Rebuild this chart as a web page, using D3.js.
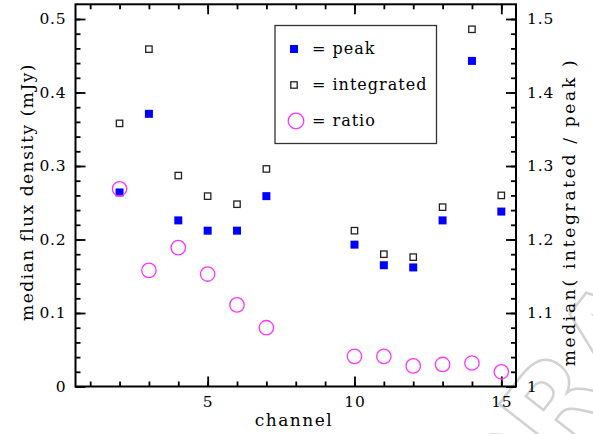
<!DOCTYPE html>
<html>
<head>
<meta charset="utf-8">
<script src="https://cdn.jsdelivr.net/npm/d3@7"></script>
<style>
  body { margin: 0; background: #fff; }
  svg { display: block; }
  text { font-family: "DejaVu Serif", "Liberation Serif", serif; fill: #000; }
</style>
</head>
<body>
<svg id="chart" width="593" height="434"></svg>
<script>
// Data
const channels = [2, 3, 4, 5, 6, 7, 10, 11, 12, 13, 14, 15];
const peak = [0.264, 0.371, 0.226, 0.212, 0.212, 0.259, 0.193, 0.165, 0.162, 0.226, 0.443, 0.238];
const integrated = [0.358, 0.459, 0.287, 0.259, 0.248, 0.296, 0.212, 0.180, 0.176, 0.244, 0.486, 0.260];
const ratio = [1.269, 1.158, 1.189, 1.153, 1.111, 1.080, 1.041, 1.041, 1.028, 1.030, 1.032, 1.020];

const xMajor = [5, 10, 15];
const xMinor = d3.range(1, 16);
const yMajor = [0, 0.1, 0.2, 0.3, 0.4, 0.5];
const yMinor = d3.range(0, 0.52, 0.02);
const rMajor = [1, 1.1, 1.2, 1.3, 1.4, 1.5];
const rMinor = d3.range(1, 1.52, 0.02);

const legendItems = ["peak", "integrated", "ratio"];

// Plot frame
const frameL = 75.5, frameR = 516, frameT = 4.3, frameB = 386.5;

const svg = d3.select("#chart");

const x = d3.scaleLinear().domain([0.5, 15.5]).range([frameL, frameR]);
const y = d3.scaleLinear().domain([0, 0.52]).range([frameB, frameT]);
const yR = d3.scaleLinear().domain([1, 1.52]).range([frameB, frameT]);

const fmt = (d) => (Number.isInteger(d) ? String(d) : d.toFixed(1));

// Watermark (faint outlined text peeking in at the corner)
svg.append("text")
  .attr("transform", "translate(500,545) rotate(-52)")
  .style("font-family", "DejaVu Sans, sans-serif")
  .style("font-size", "120px")
  .style("font-weight", "bold")
  .style("fill", "none")
  .style("stroke", "#d2d2d2")
  .style("stroke-width", 2.5)
  .text("DRAFT");

// Axes: minor ticks first, then major with labels
const axisStyle = (g) => {
  g.select(".domain").remove();
  g.selectAll(".tick line").attr("stroke", "#000").attr("stroke-width", 1.8);
  g.selectAll(".tick text")
    .style("font-size", "15.5px")
    .style("letter-spacing", "0.8px")
    .style("font-family", "DejaVu Serif, serif");
};

// bottom
svg.append("g").attr("transform", `translate(0,${frameB})`)
  .call(d3.axisBottom(x).tickValues(xMinor).tickSize(-5).tickFormat(""))
  .call(axisStyle);
svg.append("g").attr("transform", `translate(0,${frameB})`)
  .call(d3.axisBottom(x).tickValues(xMajor).tickSize(-10).tickPadding(9).tickFormat(d3.format("d")))
  .call(axisStyle);
// top
svg.append("g").attr("transform", `translate(0,${frameT})`)
  .call(d3.axisTop(x).tickValues(xMinor).tickSize(-5).tickFormat(""))
  .call(axisStyle);
svg.append("g").attr("transform", `translate(0,${frameT})`)
  .call(d3.axisTop(x).tickValues(xMajor).tickSize(-10).tickFormat(""))
  .call(axisStyle);
// left
svg.append("g").attr("transform", `translate(${frameL},0)`)
  .call(d3.axisLeft(y).tickValues(yMinor).tickSize(-5).tickFormat(""))
  .call(axisStyle);
svg.append("g").attr("transform", `translate(${frameL},0)`)
  .call(d3.axisLeft(y).tickValues(yMajor).tickSize(-10).tickPadding(9).tickFormat(fmt))
  .call(axisStyle);
// right
svg.append("g").attr("transform", `translate(${frameR},0)`)
  .call(d3.axisRight(yR).tickValues(rMinor).tickSize(-5).tickFormat(""))
  .call(axisStyle);
svg.append("g").attr("transform", `translate(${frameR},0)`)
  .call(d3.axisRight(yR).tickValues(rMajor).tickSize(-10).tickPadding(11).tickFormat(fmt))
  .call(axisStyle);

// frame
svg.append("rect")
  .attr("x", frameL).attr("y", frameT)
  .attr("width", frameR - frameL).attr("height", frameB - frameT)
  .attr("fill", "none").attr("stroke", "#000").attr("stroke-width", 2);

// axis titles
svg.append("text")
  .attr("transform", `translate(33,192) rotate(-90)`)
  .attr("text-anchor", "middle")
  .style("font-size", "17px")
  .style("letter-spacing", "1.5px")
  .text("median flux density (mJy)");

svg.append("text")
  .attr("transform", `translate(575,212) rotate(-90)`)
  .attr("text-anchor", "middle")
  .style("font-size", "17px")
  .style("letter-spacing", "2.7px")
  .text("median( integrated / peak )");

svg.append("text")
  .attr("x", 294).attr("y", 426)
  .attr("text-anchor", "middle")
  .style("font-size", "17px")
  .style("letter-spacing", "1.5px")
  .text("channel");

// Data marks
const rows = channels.map((c, i) => ({ c, peak: peak[i], integ: integrated[i], ratio: ratio[i] }));

svg.append("g").selectAll("rect")
  .data(rows).join("rect")
  .attr("x", (d) => x(d.c) - 3.2).attr("y", (d) => y(d.integ) - 3.2)
  .attr("width", 6.4).attr("height", 6.4)
  .attr("fill", "none").attr("stroke", "#222").attr("stroke-width", 1.3);

svg.append("g").selectAll("rect")
  .data(rows).join("rect")
  .attr("x", (d) => x(d.c) - 4).attr("y", (d) => y(d.peak) - 4)
  .attr("width", 8).attr("height", 8)
  .attr("fill", "#0000ff");

svg.append("g").selectAll("circle")
  .data(rows).join("circle")
  .attr("cx", (d) => x(d.c)).attr("cy", (d) => yR(d.ratio))
  .attr("r", 7.2)
  .attr("fill", "none").attr("stroke", "#ff33ff").attr("stroke-width", 1.3);

// Legend
const legend = svg.append("g");
legend.append("rect")
  .attr("x", 275).attr("y", 25.5).attr("width", 161.5).attr("height", 118)
  .attr("fill", "#fff").attr("stroke", "#333").attr("stroke-width", 1.3);

const ly = d3.scalePoint().domain(legendItems).range([49, 121]);
legend.append("rect")
  .attr("x", 290).attr("y", ly("peak") - 4).attr("width", 8).attr("height", 8)
  .attr("fill", "#0000ff");
legend.append("rect")
  .attr("x", 290.8).attr("y", ly("integrated") - 3.2).attr("width", 6.4).attr("height", 6.4)
  .attr("fill", "none").attr("stroke", "#222").attr("stroke-width", 1.3);
legend.append("circle")
  .attr("cx", 296).attr("cy", ly("ratio")).attr("r", 7.8)
  .attr("fill", "none").attr("stroke", "#ff33ff").attr("stroke-width", 1.3);

legend.selectAll("text.lab")
  .data(legendItems).join("text")
  .attr("class", "lab")
  .attr("x", 312).attr("y", (d) => ly(d) + 5)
  .style("font-size", "16px")
  .style("letter-spacing", "1px")
  .style("white-space", "pre")
  .text((d) => "= " + d);
</script>
</body>
</html>
